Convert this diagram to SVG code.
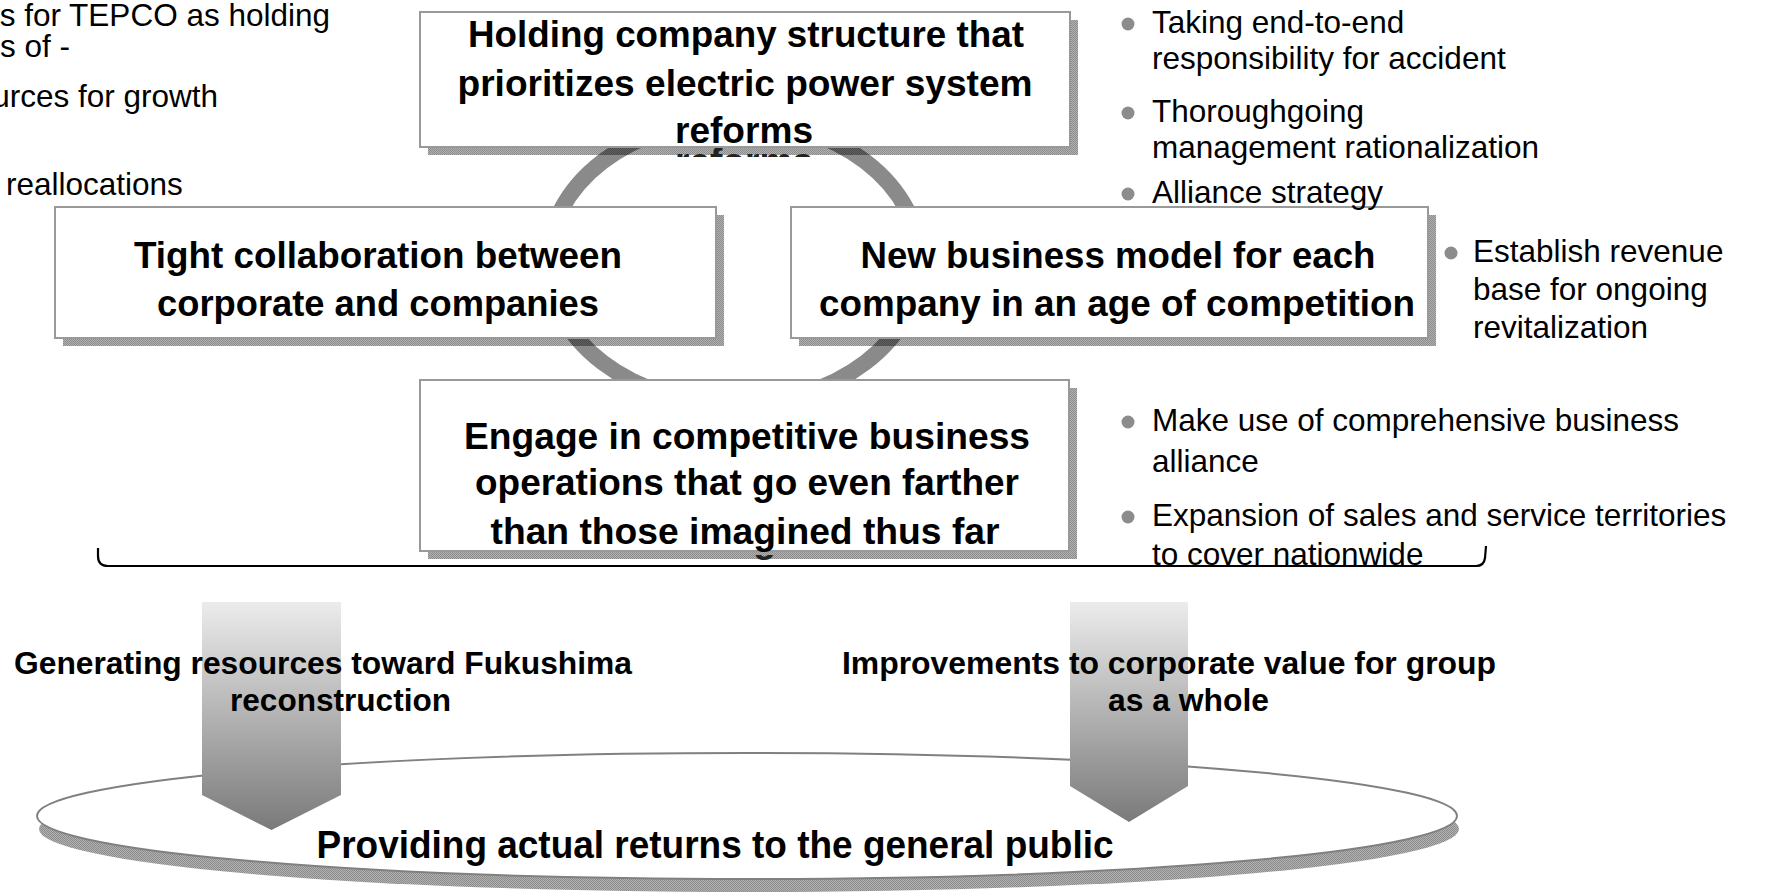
<svg xmlns="http://www.w3.org/2000/svg" width="1774" height="895" viewBox="0 0 1774 895">
<defs>
<style>
.bt{font-family:"Liberation Sans",Arial,sans-serif;font-weight:bold;fill:#000}
.bx{font-size:36px}
.lb{font-size:31px}
.rt{font-family:"Liberation Sans",Arial,sans-serif;font-size:31.5px;fill:#000}
.box{fill:#fff;stroke:#999;stroke-width:2}
.shadow{fill:url(#hatch)}
.bul{fill:#8c8c8c}
.ghost{font-family:"Liberation Sans",Arial,sans-serif;font-weight:bold;font-size:36px;fill:#222}
</style>
<pattern id="hatch" width="2" height="2" patternUnits="userSpaceOnUse">
<rect width="2" height="2" fill="#000" fill-opacity="0.3"/>
<rect width="1" height="1" fill="#000" fill-opacity="0.22"/>
<rect x="1" y="1" width="1" height="1" fill="#000" fill-opacity="0.22"/>
</pattern>
<linearGradient id="ag" x1="0" y1="0" x2="0" y2="1">
<stop offset="0" stop-color="#ececec"/>
<stop offset="1" stop-color="#7a7a7a"/>
</linearGradient>
<clipPath id="cg1"><rect x="420" y="148" width="660" height="9"/></clipPath>
<clipPath id="cg2"><rect x="420" y="555" width="660" height="6"/></clipPath>
</defs>
<rect width="1774" height="895" fill="#fff"/>

<g id="notes-left">
<text class="rt" x="330" y="26" text-anchor="end">s for TEPCO as holding</text>
<text class="rt" x="70" y="57" text-anchor="end">s of -</text>
<text class="rt" x="218" y="107" text-anchor="end">urces for growth</text>
<text class="rt" x="6" y="195">reallocations</text>
</g>

<g id="cycle">
<ellipse cx="734" cy="262" rx="186" ry="142" fill="none" stroke="#8a8a8a" stroke-width="16"/>
</g>

<g id="node-top">
<rect class="shadow" x="428" y="20" width="650" height="135"/>
<text class="ghost" x="744" y="174" text-anchor="middle" textLength="138" lengthAdjust="spacingAndGlyphs" clip-path="url(#cg1)">reforms</text>
<rect class="box" x="420" y="12" width="650" height="135"/>
<text class="bt bx" x="746" y="47" text-anchor="middle" textLength="556" lengthAdjust="spacingAndGlyphs">Holding company structure that</text>
<text class="bt bx" x="745" y="96" text-anchor="middle" textLength="575" lengthAdjust="spacingAndGlyphs">prioritizes electric power system</text>
<text class="bt bx" x="744" y="143" text-anchor="middle" textLength="138" lengthAdjust="spacingAndGlyphs">reforms</text>
</g>

<g id="node-left">
<rect class="shadow" x="63" y="215" width="661" height="131"/>
<rect class="box" x="55" y="207" width="661" height="131"/>
<text class="bt bx" x="378" y="268" text-anchor="middle" textLength="488" lengthAdjust="spacingAndGlyphs">Tight collaboration between</text>
<text class="bt bx" x="378" y="316" text-anchor="middle" textLength="442" lengthAdjust="spacingAndGlyphs">corporate and companies</text>
</g>

<g id="node-right">
<rect class="shadow" x="799" y="215" width="637" height="131"/>
<rect class="box" x="791" y="207" width="637" height="131"/>
<text class="bt bx" x="1118" y="268" text-anchor="middle" textLength="515" lengthAdjust="spacingAndGlyphs">New business model for each</text>
<text class="bt bx" x="1117" y="316" text-anchor="middle" textLength="596" lengthAdjust="spacingAndGlyphs">company in an age of competition</text>
</g>

<g id="node-bottom">
<rect class="shadow" x="428" y="388" width="649" height="171"/>
<text class="ghost" x="745" y="552" text-anchor="middle" textLength="509" lengthAdjust="spacingAndGlyphs" clip-path="url(#cg2)">than those imagined thus far</text>
<rect class="box" x="420" y="380" width="649" height="171"/>
<text class="bt bx" x="747" y="449" text-anchor="middle" textLength="566" lengthAdjust="spacingAndGlyphs">Engage in competitive business</text>
<text class="bt bx" x="747" y="495" text-anchor="middle" textLength="544" lengthAdjust="spacingAndGlyphs">operations that go even farther</text>
<text class="bt bx" x="745" y="544" text-anchor="middle" textLength="509" lengthAdjust="spacingAndGlyphs">than those imagined thus far</text>
</g>

<g id="notes-top">
<circle class="bul" cx="1128" cy="24" r="6.5"/>
<text class="rt" x="1152" y="33">Taking end-to-end</text>
<text class="rt" x="1152" y="69">responsibility for accident</text>
<circle class="bul" cx="1128" cy="113" r="6.5"/>
<text class="rt" x="1152" y="122">Thoroughgoing</text>
<text class="rt" x="1152" y="158">management rationalization</text>
<circle class="bul" cx="1128" cy="194" r="6.5"/>
<text class="rt" x="1152" y="203">Alliance strategy</text>
</g>

<g id="notes-right">
<circle class="bul" cx="1451" cy="253" r="6.5"/>
<text class="rt" x="1473" y="262">Establish revenue</text>
<text class="rt" x="1473" y="300">base for ongoing</text>
<text class="rt" x="1473" y="338">revitalization</text>
</g>

<g id="notes-bottom">
<circle class="bul" cx="1128" cy="422" r="6.5"/>
<text class="rt" x="1152" y="431">Make use of comprehensive business</text>
<text class="rt" x="1152" y="472">alliance</text>
<circle class="bul" cx="1128" cy="517" r="6.5"/>
<text class="rt" x="1152" y="526">Expansion of sales and service territories</text>
<text class="rt" x="1152" y="565">to cover nationwide</text>
</g>

<g id="brace">
<path d="M98 548 L98 556 Q98 566 108 566 L1476 566 Q1484 566 1485 558 L1486 546" fill="none" stroke="#000" stroke-width="2.2"/>
</g>

<g id="node-public">
<ellipse class="shadow" cx="749" cy="829" rx="710" ry="63"/>
<ellipse cx="747" cy="816" rx="710" ry="63" fill="#fff" stroke="#808080" stroke-width="2"/>
<text class="bt" font-size="39" x="715" y="858" text-anchor="middle" textLength="797" lengthAdjust="spacingAndGlyphs">Providing actual returns to the general public</text>
</g>

<g id="connectors">
<g id="arrow-left">
<polygon points="202,602 341,602 341,795 271.5,830 202,795" fill="url(#ag)"/>
<text class="bt lb" x="14" y="674" textLength="618" lengthAdjust="spacingAndGlyphs">Generating resources toward Fukushima</text>
<text class="bt lb" x="230" y="711" textLength="221" lengthAdjust="spacingAndGlyphs">reconstruction</text>
</g>
<g id="arrow-right">
<polygon points="1070,602 1188,602 1188,786 1129,822 1070,786" fill="url(#ag)"/>
<text class="bt lb" x="842" y="674" textLength="654" lengthAdjust="spacingAndGlyphs">Improvements to corporate value for group</text>
<text class="bt lb" x="1108" y="711" textLength="161" lengthAdjust="spacingAndGlyphs">as a whole</text>
</g>
</g>
</svg>
